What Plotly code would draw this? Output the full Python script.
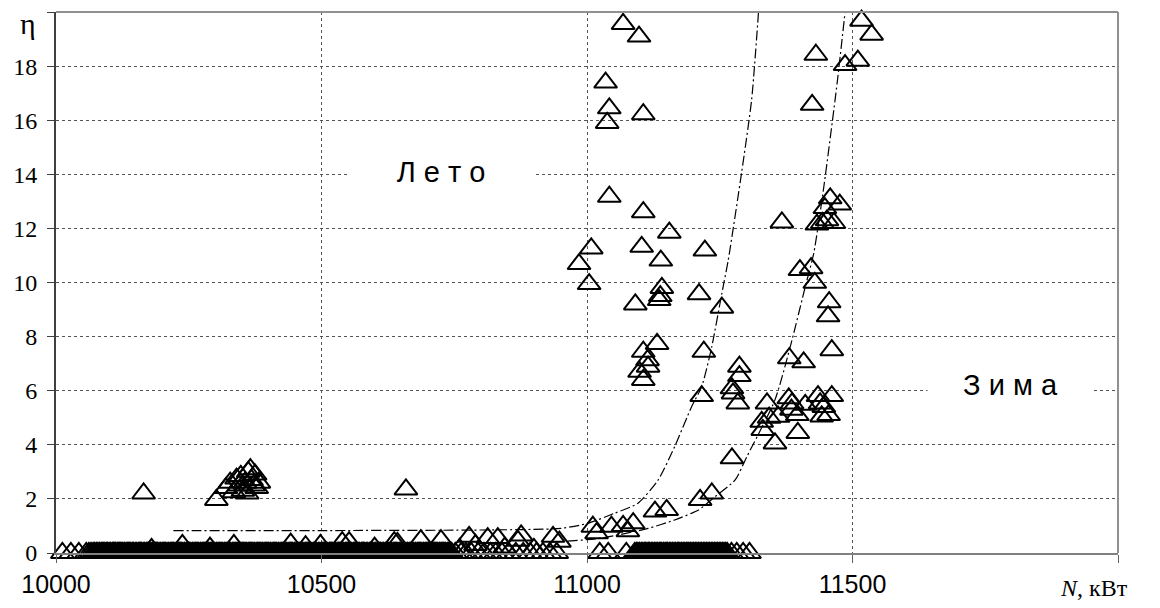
import plotly.graph_objects as go

# ---- data ----
# dense row of points at (almost) zero, light load
zero_row_x = [10012, 10028, 10043, 10057, 10066, 10073, 10079, 10085, 10090, 10095, 10100, 10106, 10110, 10115,
              10119, 10124, 10129, 10135, 10139, 10144, 10149, 10155, 10159, 10164, 10170, 10174, 10179, 10185,
              10189, 10194, 10200, 10204, 10209, 10215, 10219, 10224, 10230, 10234, 10239, 10245, 10249, 10254,
              10260, 10264, 10269, 10275, 10279, 10284, 10290, 10294, 10299, 10305, 10309, 10314, 10320, 10324,
              10329, 10335, 10339, 10344, 10350, 10354, 10359, 10365, 10369, 10374, 10380, 10384, 10389, 10395,
              10399, 10404, 10410, 10414, 10419, 10425, 10429, 10434, 10440, 10444, 10449, 10455, 10459, 10464,
              10470, 10474, 10479, 10485, 10489, 10494, 10500, 10504, 10509, 10515, 10519, 10524, 10530, 10534,
              10539, 10545, 10549, 10554, 10560, 10564, 10569, 10575, 10579, 10584, 10590, 10594, 10599, 10605,
              10609, 10614, 10620, 10624, 10629, 10635, 10639, 10644, 10650, 10654, 10659, 10665, 10669, 10674,
              10680, 10684, 10689, 10695, 10699, 10704, 10710, 10714, 10719, 10725, 10729, 10734, 10740, 10745,
              10752, 10763, 10772, 10782, 10795, 10806, 10818, 10828, 10840, 10852, 10866, 10880, 10893, 10905,
              10917, 10930, 10943,
              11024, 11040, 11074, 11090, 11096, 11102, 11108, 11113, 11118, 11124, 11130, 11136, 11141, 11147,
              11152, 11158, 11164, 11170, 11175, 11181, 11187, 11192, 11198, 11204, 11210, 11216, 11222, 11228,
              11234, 11240, 11246, 11252, 11258, 11264, 11272, 11282, 11294, 11306]
zero_row_y = [0.0] * len(zero_row_x)

# further zero readings packed between the ones above (the band is solid black)
zero_row2_x = [10062, 10070, 10076, 10082, 10087, 10092, 10097, 10103, 10108, 10112, 10117, 10121, 10126, 10132,
               10137, 10141, 10146, 10152, 10157, 10161, 10167, 10172, 10176, 10182, 10187, 10191, 10197, 10202,
               10206, 10212, 10217, 10221, 10227, 10232, 10236, 10242, 10247, 10251, 10257, 10262, 10266, 10272,
               10277, 10281, 10287, 10292, 10296, 10302, 10307, 10311, 10317, 10322, 10326, 10332, 10337, 10341,
               10347, 10352, 10356, 10362, 10367, 10371, 10377, 10382, 10386, 10392, 10397, 10401, 10407, 10412,
               10416, 10422, 10427, 10431, 10437, 10442, 10446, 10452, 10457, 10461, 10467, 10472, 10476, 10482,
               10487, 10491, 10497, 10502, 10506, 10512, 10517, 10521, 10527, 10532, 10536, 10542, 10547, 10551,
               10557, 10562, 10566, 10572, 10577, 10581, 10587, 10592, 10596, 10602, 10607, 10611, 10617, 10622,
               10626, 10632, 10637, 10641, 10647, 10652, 10656, 10662, 10667, 10671, 10677, 10682, 10686, 10692,
               10697, 10701, 10707, 10712, 10716, 10722, 10727, 10731, 10737, 10742,
               11093, 11099, 11105, 11110, 11116, 11121, 11127, 11133, 11138, 11144, 11150, 11155, 11161, 11167,
               11172, 11178, 11184, 11190, 11195, 11201, 11207, 11213, 11219, 11225, 11231, 11237, 11243, 11249,
               11255, 11261]
zero_row2_y = [0.0] * len(zero_row2_x)

# points slightly above zero
low_x = [10180, 10238, 10290, 10335, 10442, 10470, 10498, 10539, 10552, 10600, 10637, 10643, 10687, 10725,
         10760, 10778, 10790, 10813, 10832, 10845, 10870, 10876, 10900, 10936, 10948,
         11011, 11018, 11046, 11068, 11077, 11087, 11128, 11150, 11213, 11235]
low_y = [0.15, 0.3, 0.2, 0.3, 0.35, 0.25, 0.3, 0.4, 0.4, 0.2, 0.4, 0.37, 0.48, 0.48,
         0.15, 0.6, 0.3, 0.55, 0.55, 0.2, 0.45, 0.65, 0.15, 0.6, 0.42,
         0.97, 0.73, 0.97, 1.0, 0.8, 1.1, 1.53, 1.59, 1.96, 2.2]

# isolated group around eta = 2..3
group_x = [10165, 10302, 10320, 10328, 10335, 10340, 10345, 10348, 10352, 10356, 10360, 10362, 10366,
           10368, 10372, 10375, 10378, 10382, 10659]
group_y = [2.2, 1.96, 2.4, 2.6, 2.25, 2.75, 2.5, 2.85, 2.3, 2.6, 2.2, 3.0, 3.1,
           2.7, 2.5, 2.9, 2.4, 2.6, 2.35]

# summer ("Лето") high points
summer_x = [10985, 11004, 11008, 11035, 11042, 11038, 11042, 11068, 11098, 11106, 11106, 11103, 11155,
            11139, 11222, 11091, 11141, 11138, 11136, 11211, 11254, 11132, 11106, 11114, 11115, 11099,
            11106, 11220, 11216, 11287, 11287, 11273, 11275, 11284, 11273]
summer_y = [10.68, 9.94, 11.26, 17.39, 16.44, 15.9, 13.17, 19.56, 19.09, 16.22, 12.6, 11.32, 11.84,
            10.81, 11.18, 9.19, 9.8, 9.5, 9.35, 9.57, 9.07, 7.73, 7.44, 7.13, 6.89, 6.7,
            6.4, 7.44, 5.8, 6.89, 6.54, 6.09, 5.9, 5.53, 3.5]

# winter ("Зима") high points
winter_x = [11517, 11536, 11431, 11486, 11510, 11424, 11458, 11476, 11448, 11367, 11433, 11443, 11452,
            11465, 11401, 11422, 11429, 11456, 11454, 11461, 11381, 11408, 11339, 11329, 11331, 11343,
            11354, 11360, 11380, 11386, 11396, 11397, 11411, 11435, 11461, 11439, 11442, 11455, 11446, 11385]
winter_y = [19.68, 19.16, 18.42, 18.04, 18.2, 16.57, 13.11, 12.88, 12.75, 12.22, 12.14, 12.2, 12.3,
            12.2, 10.46, 10.53, 9.99, 9.27, 8.75, 7.5, 7.2, 7.05, 5.53, 4.85, 4.55, 5.0,
            4.05, 5.04, 5.72, 5.53, 5.1, 4.44, 5.48, 5.8, 5.8, 5.53, 5.05, 5.1, 5.4, 5.3]

# trend curves
summer_curve_x = [10221, 10500, 10800, 10951, 11002, 11052, 11096, 11134, 11165, 11197, 11216, 11235,
                  11254, 11266, 11291, 11310, 11323]
summer_curve_y = [0.83, 0.83, 0.85, 0.91, 1.10, 1.47, 1.84, 2.70, 3.93, 5.41, 6.15, 7.63,
                  9.60, 10.83, 14.04, 16.75, 20.0]
winter_curve_x = [10930, 10951, 11027, 11115, 11165, 11210, 11241, 11279, 11301, 11354, 11386, 11411,
                  11427, 11446, 11471, 11486]
winter_curve_y = [0.40, 0.42, 0.55, 0.91, 1.22, 1.59, 2.08, 2.70, 3.56, 5.66, 7.87, 9.84,
                  11.08, 13.54, 17.36, 20.0]

x_ticks = [10000, 10500, 11000, 11500, 12000]
x_tick_text = ["10000", "10500", "11000", "11500", ""]
y_ticks = [0, 2, 4, 6, 8, 10, 12, 14, 16, 18, 20]
y_tick_text = ["0", "2", "4", "6", "8", "10", "12", "14", "16", "18", ""]

# ---- figure ----
fig = go.Figure()

marker_style = dict(symbol="triangle-up-open", size=20, color="black", line=dict(color="black", width=2))

for xs, ys in [(zero_row_x, zero_row_y), (zero_row2_x, zero_row2_y), (low_x, low_y), (group_x, group_y),
               (summer_x, summer_y), (winter_x, winter_y)]:
    fig.add_trace(go.Scatter(x=xs, y=ys, mode="markers", marker=marker_style,
                             cliponaxis=False, showlegend=False, hoverinfo="x+y"))

for cx, cy in [(summer_curve_x, summer_curve_y), (winter_curve_x, winter_curve_y)]:
    fig.add_trace(go.Scatter(x=cx, y=cy, mode="lines", line=dict(color="black", width=1.2,
                             dash="10px,3px,2px,3px", shape="spline", smoothing=0.6),
                             showlegend=False, hoverinfo="skip"))

# the page adds an 8px body margin, so the figure is 8px smaller than the window
fig.update_layout(
    width=1152, height=600,
    margin=dict(l=48, r=42, t=4, b=55, autoexpand=False),
    paper_bgcolor="white", plot_bgcolor="white",
    xaxis=dict(range=[10000, 12000], tickvals=x_ticks, ticktext=x_tick_text,
               showgrid=True, gridcolor="#555555", griddash="dot", gridwidth=1,
               showline=True, linecolor="#808080", linewidth=2,
               ticks="outside", ticklen=8, tickcolor="#606060", tickwidth=1,
               tickfont=dict(family="Liberation Sans, Arial", size=25, color="black"),
               zeroline=False, automargin=False),
    yaxis=dict(range=[0, 20], tickvals=y_ticks, ticktext=y_tick_text,
               showgrid=True, gridcolor="#555555", griddash="dot", gridwidth=1,
               showline=True, linecolor="#404040", linewidth=2,
               ticks="outside", ticklen=7, tickcolor="#404040", tickwidth=1,
               ticklabelstandoff=5,
               tickfont=dict(family="Liberation Serif, Times New Roman", size=24, color="black"),
               zeroline=False, automargin=False),
)

# top and right border of the plot area
fig.add_shape(type="line", xref="paper", yref="paper", x0=0, x1=1, y0=1, y1=1,
              line=dict(color="#909090", width=2))
fig.add_shape(type="line", xref="paper", yref="paper", x0=1, x1=1, y0=0, y1=1,
              line=dict(color="#909090", width=2))

fig.add_annotation(x=10725, y=14.1, xref="x", yref="y", text="Л е т о", showarrow=False,
                   font=dict(family="Liberation Sans, Arial", size=29, color="black"),
                   bgcolor="white", width=184, height=34)
fig.add_annotation(x=11797, y=6.2, xref="x", yref="y", text="З и м а", showarrow=False,
                   font=dict(family="Liberation Sans, Arial", size=29, color="black"),
                   bgcolor="white", width=163, height=34)
# axis names
fig.add_annotation(x=-0.0264, y=0.978, xref="paper", yref="paper", text="η", showarrow=False,
                   xanchor="center", yanchor="middle",
                   font=dict(family="Liberation Serif, Times New Roman", size=30, color="black"))
fig.add_annotation(x=0.9774, y=-0.0647, xref="paper", yref="paper", text="<i>N</i>, кВт", showarrow=False,
                   xanchor="center", yanchor="middle",
                   font=dict(family="Liberation Serif, Times New Roman", size=24, color="black"))

fig.write_html("out.html")
